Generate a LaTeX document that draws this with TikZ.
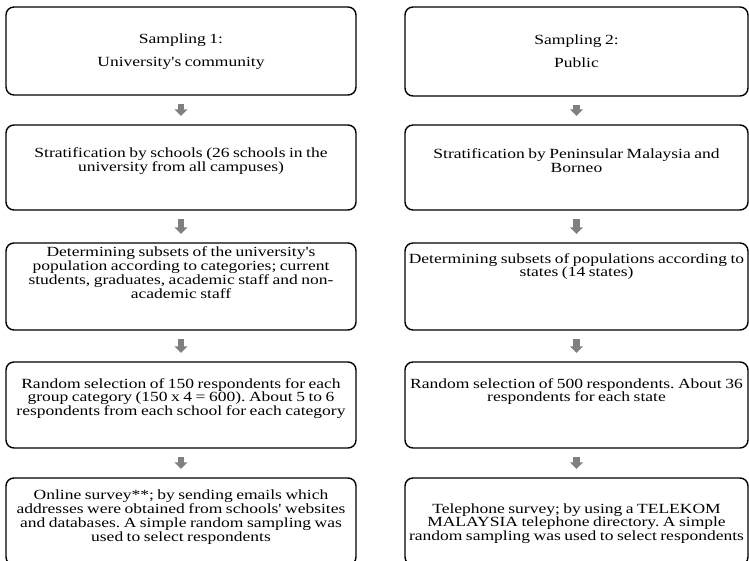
\documentclass[tikz,border=0pt]{standalone}
\usepackage{fontspec}
\setmainfont{Liberation Serif}[Ligatures=TeXOff,FakeStretch=1.25,WordSpace=0.8]
\usepackage{tikz}
\usetikzlibrary{calc,arrows.meta,positioning}
\definecolor{arrowgray}{HTML}{808080}
\tikzset{
  box/.style={draw=black,line width=1.4pt,rounded corners=8pt,fill=white,inner sep=0pt},
  lbox/.style={box,minimum width=350pt},
  rbox/.style={box,minimum width=343pt},
  txt/.style={align=center,inner sep=0pt,font=\fontsize{14}{13.8}\selectfont\frenchspacing},
  ar/.style={-{Triangle[width=13pt,length=6.5pt]},line width=6.5pt,arrowgray,
    shorten <=8.5pt,shorten >=8.5pt}
}
\begin{document}
\begin{tikzpicture}[x=1pt,y=-1pt]
\useasboundingbox (0,0) rectangle (749,561);
\clip (0,0) rectangle (749,561);
% left column: university's community
\node[lbox,minimum height=88pt] (l1) at (181,51) {};
\node[lbox,minimum height=85pt] (l2) at (181,167.5) {};
\node[lbox,minimum height=87pt] (l3) at (181,286.5) {};
\node[lbox,minimum height=86pt] (l4) at (181,405) {};
\node[lbox,minimum height=87pt] (l5) at (181,521.5) {};
% right column: public
\node[rbox,minimum height=89pt] (r1) at (576.5,51.5) {};
\node[rbox,minimum height=85pt] (r2) at (576.5,167.5) {};
\node[rbox,minimum height=87pt] (r3) at (576.5,286.5) {};
\node[rbox,minimum height=86pt] (r4) at (576.5,405) {};
\node[rbox,minimum height=87pt] (r5) at (576.5,521.5) {};
% texts
\node[txt] (l1t) at (181,51.5) {Sampling 1:\\[9pt]University's community};
\node[txt] (l2t) at (181,161) {Stratification by schools (26 schools in the\\university from all campuses)};
\node[txt] (l3t) at (181,272.5) {Determining subsets of the university's\\population according to categories; current\\students, graduates, academic staff and non-\\academic staff};
\node[txt] (l4t) at (181,398.5) {Random selection of 150 respondents for each\\group category (150 x 4 = 600). About 5 to 6\\respondents from each school for each category};
\node[txt] (l5t) at (181,517) {Online survey**; by sending emails which\\addresses were obtained from schools' websites\\and databases. A simple random sampling was\\used to select respondents};
\node[txt] (r1t) at (576.5,51.5) {Sampling 2:\\[9pt]Public};
\node[txt] (r2t) at (576.5,161) {Stratification by Peninsular Malaysia and\\Borneo};
\node[txt] (r3t) at (576.5,266.5) {Determining subsets of populations according to\\states (14 states)};
\node[txt] (r4t) at (576.5,391.5) {Random selection of 500 respondents. About 36\\respondents for each state};
\node[txt] (r5t) at (576.5,523.5) {Telephone survey; by using a TELEKOM\\MALAYSIA telephone directory. A simple\\random sampling was used to select respondents};
% arrows
\foreach \a/\b in {l1/l2,l2/l3,l3/l4,l4/l5,r1/r2,r2/r3,r3/r4,r4/r5}
  \draw[ar] (\a) -- (\b);
\end{tikzpicture}
\end{document}
